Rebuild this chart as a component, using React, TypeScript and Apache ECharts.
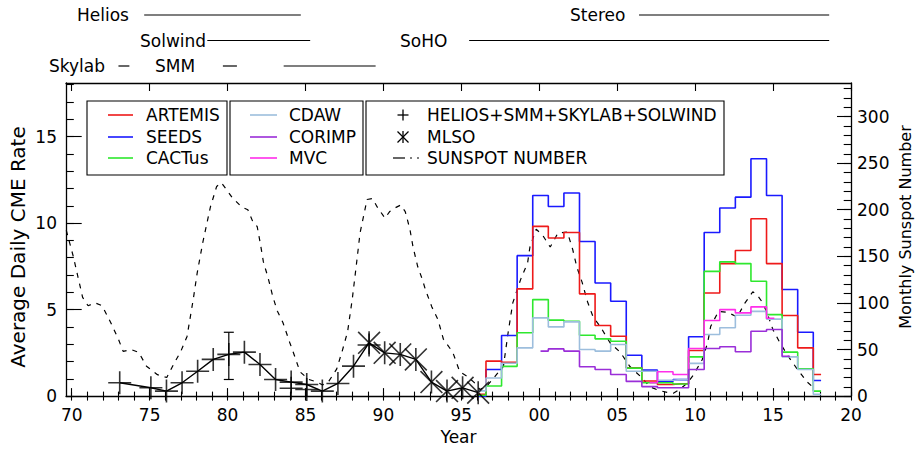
import React, { useEffect, useRef } from "react";
import * as echarts from "echarts";

const FONT = "DejaVu Sans";
const FS = 17;

// ---------- data ----------
const HIST_YEARS = [1996, 1997, 1998, 1999, 2000, 2001, 2002, 2003, 2004, 2005, 2006, 2007, 2008, 2009, 2010, 2011, 2012, 2013, 2014, 2015, 2016, 2017, 2018];
const ARTEMIS = [0.1, 2.02, 1.96, 6.2, 9.81, 9.14, 9.46, 5.91, 4.08, 3.46, 1.64, 0.87, 0.67, 0.71, 2.64, 5.96, 7.66, 8.42, 10.25, 7.66, 4.66, 2.79, 1.25];
const SEEDS = [0.0, 1.54, 3.5, 8.12, 11.6, 10.96, 11.74, 8.94, 6.54, 5.48, 2.36, 1.5, 0.85, 0.95, 3.43, 9.46, 10.87, 11.5, 13.72, 11.6, 6.16, 3.69, 0.9];
const CACTUS = [0.05, 0.58, 1.72, 3.66, 5.58, 4.39, 4.33, 3.52, 3.31, 3.17, 1.62, 0.77, 0.77, 0.7, 2.27, 7.21, 7.76, 7.66, 6.64, 4.71, 2.54, 1.58, 0.29];
const CDAW = [0.3, 1.05, 1.9, 2.79, 4.52, 4.0, 4.29, 2.69, 2.6, 2.98, 1.44, 1.44, 0.92, 0.96, 1.89, 3.56, 3.95, 4.67, 4.9, 4.45, 2.27, 1.54, 0.1];
const CORIMP_YEARS = [2000, 2001, 2002, 2003, 2004, 2005, 2006, 2007, 2008, 2009, 2010, 2011, 2012, 2013, 2014, 2015, 2016];
const CORIMP = [2.6, 2.73, 2.6, 1.7, 1.54, 1.25, 0.85, 0.55, 0.48, 0.48, 1.54, 2.75, 2.85, 2.56, 3.75, 3.85, 2.3];
const MVC_YEARS = [2007, 2008, 2009, 2010, 2011, 2012, 2013, 2014, 2015];
const MVC = [0.77, 1.41, 1.25, 2.75, 4.37, 5.0, 4.81, 5.16, 4.5];

const PRE_YEARS = [1973, 1975, 1976, 1977, 1978, 1979, 1980, 1981, 1982, 1983, 1984, 1985, 1986, 1987, 1988];
const PRE_RATE = [0.77, 0.48, 0.29, 0.77, 1.44, 2.12, 2.41, 2.54, 1.83, 0.96, 0.81, 0.67, 0.29, 0.73, 1.73];
const PRE_EXTRA_YEARS = [1984, 1985, 1989];
const PRE_EXTRA_RATE = [0.45, 0.38, 2.95];
const MLSO_YEARS = [1989, 1990, 1991, 1992, 1993, 1994, 1995, 1996];
const MLSO_RATE = [3.08, 2.5, 2.41, 2.12, 0.81, 0.29, 0.48, 0.2];
const ERR_YEARS = [1980];
const ERR_LOW = [0.96];
const ERR_HIGH = [3.69];
const YEAR_OFFSET = 0.08;

const SSN_YEARS = [1969.65, 1970.1, 1970.4, 1970.7, 1971.05, 1971.5, 1971.95, 1972.5, 1973.0, 1973.3, 1973.8, 1974.3, 1974.8, 1975.5, 1976.1, 1976.6, 1977.0, 1977.4, 1977.8, 1978.05, 1978.4, 1978.9, 1979.3, 1979.6, 1980.0, 1980.3, 1980.9, 1981.3, 1981.65, 1981.9, 1982.1, 1982.3, 1982.6, 1982.9, 1983.2, 1983.55, 1984.0, 1984.3, 1984.65, 1985.2, 1985.75, 1986.1, 1986.5, 1987.0, 1987.35, 1987.7, 1988.0, 1988.3, 1988.5, 1988.95, 1989.3, 1989.6, 1990.1, 1990.4, 1990.75, 1991.1, 1991.4, 1991.7, 1991.9, 1992.2, 1992.5, 1992.7, 1993.1, 1993.5, 1993.85, 1994.45, 1994.9, 1995.4, 1995.8, 1996.2, 1996.7, 1997.2, 1997.7, 1998.0, 1998.3, 1998.8, 1999.25, 1999.4, 1999.8, 2000.2, 2000.7, 2001.2, 2001.8, 2002.15, 2002.4, 2002.75, 2003.1, 2003.45, 2003.9, 2004.55, 2005.2, 2005.8, 2006.5, 2007.1, 2007.7, 2008.2, 2008.6, 2009.0, 2009.5, 2009.9, 2010.45, 2010.8, 2011.0, 2011.5, 2012.05, 2012.7, 2013.2, 2013.7, 2014.0, 2014.3, 2014.6, 2015.0, 2015.45, 2016.0, 2016.55, 2017.2, 2017.6];
const SSN = [178, 150, 128, 106, 97, 100, 97, 79, 61, 48, 50, 47, 32, 23, 20, 36, 48, 64, 104, 132, 164, 203, 225, 229, 220, 213, 203, 200, 186, 182, 164, 144, 127, 107, 91, 79, 57, 43, 26, 18, 15, 12, 16, 29, 48, 69, 104, 146, 175, 211, 212, 203, 191, 198, 202, 205, 198, 179, 160, 139, 125, 114, 96, 82, 61, 47, 26, 21, 15, 7, 12, 22, 32, 68, 100, 125, 143, 160, 179, 173, 160, 175, 176, 157, 139, 122, 101, 85, 75, 57, 47, 32, 21, 10, 6, 4, 3, 7, 14, 23, 39, 57, 75, 91, 90, 85, 100, 112, 108, 101, 90, 71, 57, 42, 29, 15, 9];

const X_MIN = 1969.634;
const X_MAX = 2020;
const X_MAJOR = [1970, 1975, 1980, 1985, 1990, 1995, 2000, 2005, 2010, 2015, 2020];
const X_MINOR = Array.from({ length: 51 }, (_, i) => 1970 + i);
const Y_LEFT_MAX = 18.1;
const Y_LEFT_MAJOR = [0, 5, 10, 15];
const Y_LEFT_MINOR = Array.from({ length: 19 }, (_, i) => i);
const Y_RIGHT_MAX = 336;
const Y_RIGHT_MAJOR = [0, 50, 100, 150, 200, 250, 300];
const Y_RIGHT_MINOR = Array.from({ length: 34 }, (_, i) => i * 10);

const MISSION_NAMES = ["Helios", "Solwind", "Skylab", "SMM", "SoHO", "Stereo"];
const MISSION_SPANS = [
  [[1974.65, 1984.7]],
  [[1978.7, 1985.3]],
  [[1973.0, 1973.7]],
  [[1979.7, 1980.6], [1983.6, 1989.5]],
  [[1995.5, 2018.6]],
  [[2006.4, 2018.6]],
];

const LEGEND_A = ["ARTEMIS", "SEEDS", "CACTus"];
const LEGEND_B = ["CDAW", "CORIMP", "MVC"];
const LEGEND_C = ["HELIOS+SMM+SKYLAB+SOLWIND", "MLSO", "SUNSPOT NUMBER"];

// ---------- styles / layout ----------
const COLORS: Record<string, string> = {
  ARTEMIS: "#ee1a1a",
  SEEDS: "#1a1aff",
  CACTus: "#2ee82e",
  CDAW: "#9dbedd",
  CORIMP: "#9a2ed8",
  MVC: "#ff2eea",
};
const MISSION_ROW = [0, 1, 2, 2, 1, 0];
const MISSION_LABEL_X = [77, 140, 49, 155, 400, 570];
const ROW_Y = [15, 40.5, 66];
const SSN_DASH = [5, 6];

const PLUS_PATH = "path://M0,46.5H100V53.5H0Z M46.5,0H53.5V100H46.5Z";
const STAR_PATH = "path://M46.5,0H53.5V100H46.5Z M0,5L5,0L100,95L95,100Z M95,0L100,5L5,100L0,95Z";

const pairs = (xs: number[], ys: number[], off = 0) => xs.map((x, i) => [x + off, ys[i]]);

function stepSeries(name: string, years: number[], vals: number[]) {
  return {
    name,
    type: "line",
    step: "middle",
    xAxisIndex: 0,
    yAxisIndex: 0,
    symbol: "none",
    data: pairs(years, vals, YEAR_OFFSET),
    lineStyle: { color: COLORS[name], width: 1.6 },
    z: 3,
  };
}

function buildOption() {
  const textBase = { color: "#000", fontFamily: FONT, fontSize: FS };
  const hidden = { show: false };
  const xBase = (position: string) => ({
    type: "value",
    min: X_MIN,
    max: X_MAX,
    position,
    splitLine: hidden,
    axisLabel: hidden,
    axisTick: hidden,
    axisLine: hidden,
  });
  const yBase = (position: string, max: number) => ({
    type: "value",
    min: 0,
    max,
    position,
    splitLine: hidden,
    axisLabel: hidden,
    axisTick: hidden,
    axisLine: hidden,
  });
  const line = { show: true, onZero: false, lineStyle: { color: "#000", width: 1.3 } };
  const tick = (vals: number[], length: number) => ({
    show: true,
    inside: true,
    length,
    customValues: vals,
    lineStyle: { color: "#000", width: 1.1 },
  });

  return {
    animation: false,
    backgroundColor: "#fff",
    grid: { left: 66, top: 83, width: 785, height: 314, containLabel: false },
    xAxis: [
      {
        ...xBase("bottom"),
        axisLine: line,
        axisTick: tick(X_MAJOR, 8),
        axisLabel: {
          show: true,
          customValues: X_MAJOR,
          margin: 10,
          formatter: (v: number) => String(Math.round(v) % 100).padStart(2, "0"),
          ...textBase,
        },
        name: "Year",
        nameLocation: "middle",
        nameGap: 30,
        nameTextStyle: textBase,
      },
      { ...xBase("bottom"), axisTick: tick(X_MINOR, 4.5) },
      { ...xBase("top"), axisLine: line, axisTick: tick(X_MAJOR, 8) },
      { ...xBase("top"), axisTick: tick(X_MINOR, 4.5) },
    ],
    yAxis: [
      {
        ...yBase("left", Y_LEFT_MAX),
        axisLine: line,
        axisTick: tick(Y_LEFT_MAJOR, 15.7),
        axisLabel: { show: true, customValues: Y_LEFT_MAJOR, margin: 9, ...textBase },
      },
      { ...yBase("left", Y_LEFT_MAX), axisTick: tick(Y_LEFT_MINOR, 7.8) },
      {
        ...yBase("right", Y_RIGHT_MAX),
        axisLine: line,
        axisTick: tick(Y_RIGHT_MAJOR, 14),
        axisLabel: { show: true, customValues: Y_RIGHT_MAJOR, margin: 6, ...textBase },
      },
      { ...yBase("right", Y_RIGHT_MAX), axisTick: tick(Y_RIGHT_MINOR, 7.3) },
    ],
    series: [
      {
        name: "SUNSPOT NUMBER",
        type: "line",
        xAxisIndex: 0,
        yAxisIndex: 2,
        symbol: "none",
        data: pairs(SSN_YEARS, SSN),
        lineStyle: { color: "#000", width: 1.2, type: SSN_DASH },
        z: 2,
      },
      stepSeries("SEEDS", HIST_YEARS, SEEDS),
      stepSeries("ARTEMIS", HIST_YEARS, ARTEMIS),
      stepSeries("CACTus", HIST_YEARS, CACTUS),
      stepSeries("CDAW", HIST_YEARS, CDAW),
      stepSeries("MVC", MVC_YEARS, MVC),
      stepSeries("CORIMP", CORIMP_YEARS, CORIMP),
      {
        name: "trend",
        type: "line",
        xAxisIndex: 0,
        yAxisIndex: 0,
        symbol: "none",
        data: pairs(PRE_YEARS.concat(MLSO_YEARS), PRE_RATE.concat(MLSO_RATE), YEAR_OFFSET),
        lineStyle: { color: "#000", width: 1.4 },
        z: 4,
      },
      {
        name: "HELIOS+SMM+SKYLAB+SOLWIND",
        type: "scatter",
        xAxisIndex: 0,
        yAxisIndex: 0,
        symbol: PLUS_PATH,
        symbolSize: 23,
        data: pairs(PRE_YEARS.concat(PRE_EXTRA_YEARS), PRE_RATE.concat(PRE_EXTRA_RATE), YEAR_OFFSET),
        itemStyle: { color: "#000" },
        z: 5,
      },
      {
        name: "MLSO",
        type: "scatter",
        xAxisIndex: 0,
        yAxisIndex: 0,
        symbol: STAR_PATH,
        symbolSize: 23,
        data: pairs(MLSO_YEARS, MLSO_RATE, YEAR_OFFSET),
        itemStyle: { color: "#000" },
        z: 5,
      },
      {
        name: "error",
        type: "custom",
        xAxisIndex: 0,
        yAxisIndex: 0,
        data: ERR_YEARS.map((y, i) => [y + YEAR_OFFSET, ERR_LOW[i], ERR_HIGH[i]]),
        renderItem: (_p: any, api: any) => {
          const lo = api.coord([api.value(0), api.value(1)]);
          const hi = api.coord([api.value(0), api.value(2)]);
          const st = { stroke: "#000", lineWidth: 1.2 };
          return {
            type: "group",
            children: [
              { type: "line", shape: { x1: lo[0], y1: lo[1], x2: hi[0], y2: hi[1] }, style: st },
              { type: "line", shape: { x1: lo[0] - 5, y1: lo[1], x2: lo[0] + 5, y2: lo[1] }, style: st },
              { type: "line", shape: { x1: hi[0] - 5, y1: hi[1], x2: hi[0] + 5, y2: hi[1] }, style: st },
            ],
          };
        },
        z: 5,
      },
    ],
  };
}

function buildGraphic(chart: any) {
  const px = (yr: number) => chart.convertToPixel({ xAxisIndex: 0 }, yr) as number;
  const txt = (text: string, x: number, y: number, extra: any = {}) => ({
    type: "text",
    x,
    y,
    z: 100,
    ...extra,
    style: { text, x: 0, y: 0, fill: "#000", fontFamily: FONT, fontSize: FS, verticalAlign: "middle", align: "left", ...(extra.style || {}) },
  });
  const ln = (x1: number, y1: number, x2: number, y2: number, stroke = "#000", lineWidth = 1.2) => ({
    type: "line",
    z: 100,
    shape: { x1, y1, x2, y2 },
    style: { stroke, lineWidth },
  });
  const els: any[] = [];

  // mission annotations above the plot
  MISSION_NAMES.forEach((name, i) => {
    const y = ROW_Y[MISSION_ROW[i]];
    els.push(txt(name, MISSION_LABEL_X[i], y));
    MISSION_SPANS[i].forEach(([a, b]) => els.push(ln(px(a), y, px(b), y, "#000", 1.2)));
  });

  // axis titles
  els.push(txt("Average Daily CME Rate", 18, 247, { rotation: Math.PI / 2, style: { align: "center", fontSize: 20 } }));
  els.push(txt("Monthly Sunspot Number", 905, 227, { rotation: Math.PI / 2, style: { align: "center", fontSize: 16 } }));

  // legend boxes
  const boxes = [
    [87, 101, 140, 74],
    [230, 101, 133, 74],
    [366, 101, 358, 74],
  ];
  boxes.forEach(([x, y, w, h]) =>
    els.push({ type: "rect", z: 99, shape: { x, y, width: w, height: h }, style: { fill: "#fff", stroke: "#000", lineWidth: 1.1 } })
  );
  const rows = [115, 137, 158];
  LEGEND_A.forEach((n, i) => {
    els.push(ln(108, rows[i], 133, rows[i], COLORS[n], 1.6));
    els.push(txt(n, 146, rows[i]));
  });
  LEGEND_B.forEach((n, i) => {
    els.push(ln(250, rows[i], 277, rows[i], COLORS[n], 1.6));
    els.push(txt(n, 289, rows[i]));
  });
  // symbols
  const sx = 403;
  els.push(ln(sx - 5.5, rows[0], sx + 5.5, rows[0], "#000", 1.3));
  els.push(ln(sx, rows[0] - 5.5, sx, rows[0] + 5.5, "#000", 1.3));
  els.push(ln(sx, rows[1] - 6, sx, rows[1] + 6, "#000", 1.3));
  els.push(ln(sx - 5.5, rows[1] - 5.5, sx + 5.5, rows[1] + 5.5, "#000", 1.3));
  els.push(ln(sx - 5.5, rows[1] + 5.5, sx + 5.5, rows[1] - 5.5, "#000", 1.3));
  els.push(ln(393, rows[2], 405, rows[2], "#000", 1.2));
  els.push(ln(410, rows[2], 412, rows[2], "#000", 1.2));
  els.push(ln(417, rows[2], 419, rows[2], "#000", 1.2));
  LEGEND_C.forEach((n, i) => els.push(txt(n, 427, rows[i])));

  return els;
}

export default function App() {
  const ref = useRef<HTMLDivElement>(null);
  useEffect(() => {
    const el = ref.current;
    if (!el) return;
    const chart = echarts.init(el, null, { renderer: "svg" });
    chart.setOption(buildOption() as any);
    chart.setOption({ graphic: buildGraphic(chart) } as any);
    return () => chart.dispose();
  }, []);
  return <div ref={ref} style={{ position: "absolute", left: 0, top: 0, width: 918, height: 450 }} />;
}
